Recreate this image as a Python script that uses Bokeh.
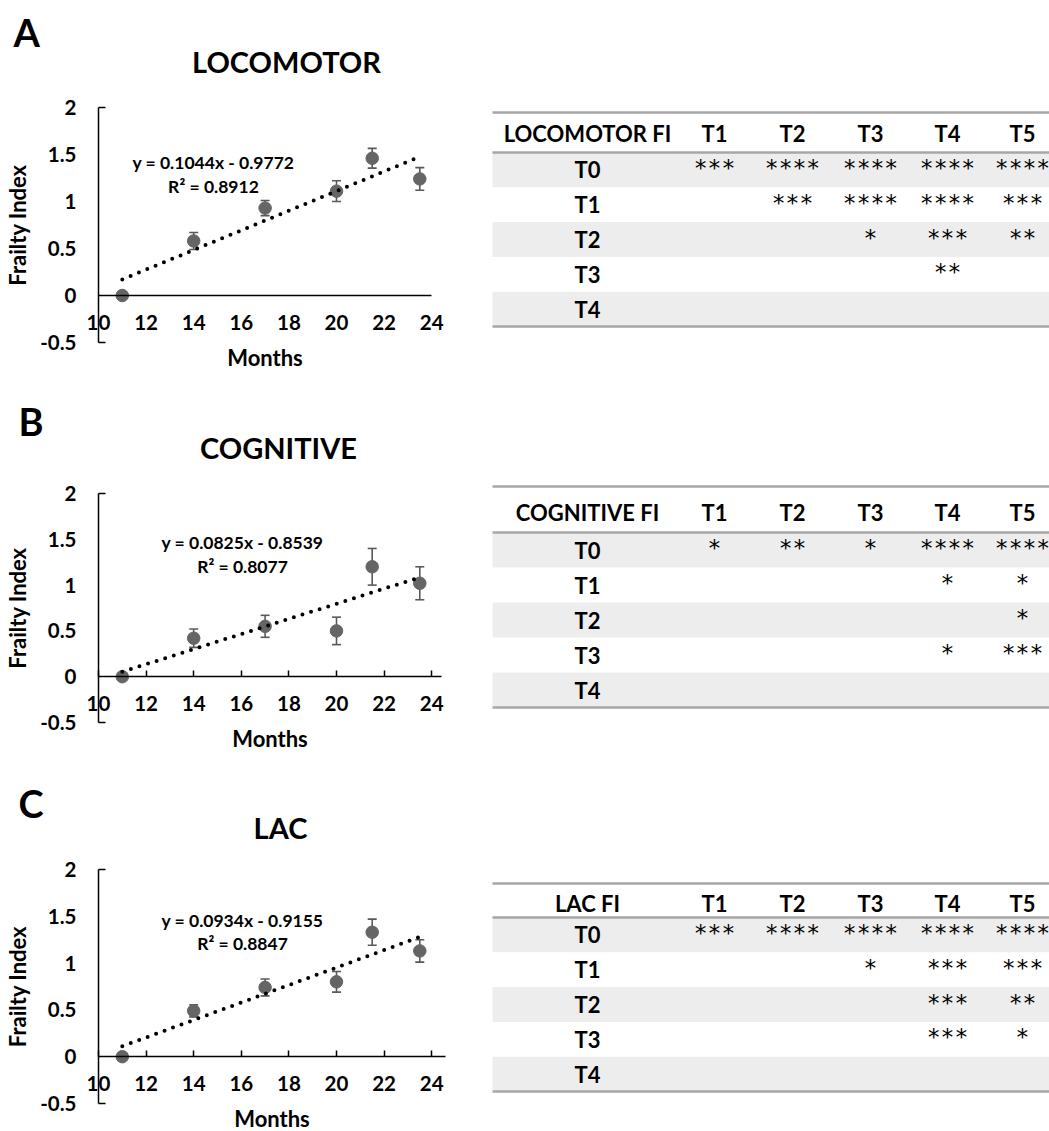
from bokeh.plotting import figure
from bokeh.layouts import column, row
from bokeh.models import (Range1d, LinearAxis, FixedTicker, Whisker, ColumnDataSource,
                          TeeHead, NumeralTickFormatter)
from bokeh.core.properties import value
from bokeh.embed import file_html
from bokeh.resources import INLINE

# ---------------- data ----------------
months = [11, 14, 17, 20, 21.5, 23.5]

loco_fi = [0.0, 0.58, 0.93, 1.11, 1.46, 1.24]
loco_err = [0.0, 0.09, 0.08, 0.11, 0.105, 0.12]
cog_fi = [0.0, 0.42, 0.55, 0.50, 1.20, 1.02]
cog_err = [0.0, 0.10, 0.12, 0.15, 0.20, 0.18]
lac_fi = [0.0, 0.49, 0.74, 0.80, 1.33, 1.13]
lac_err = [0.0, 0.065, 0.09, 0.11, 0.14, 0.12]

loco_fit = (0.1044, -0.9772, 0.8912)
cog_fit = (0.0825, -0.8539, 0.8077)
lac_fit = (0.0934, -0.9155, 0.8847)

x_ticks = [10, 12, 14, 16, 18, 20, 22, 24]
y_ticks = [-0.5, 0, 0.5, 1, 1.5, 2]

table_cols = ["T1", "T2", "T3", "T4", "T5"]
table_rows = ["T0", "T1", "T2", "T3", "T4"]
loco_sig = [["***", "****", "****", "****", "****"],
            ["", "***", "****", "****", "***"],
            ["", "", "*", "***", "**"],
            ["", "", "", "**", ""],
            ["", "", "", "", ""]]
cog_sig = [["*", "**", "*", "****", "****"],
           ["", "", "", "*", "*"],
           ["", "", "", "", "*"],
           ["", "", "", "*", "***"],
           ["", "", "", "", ""]]
lac_sig = [["***", "****", "****", "****", "****"],
           ["", "", "*", "***", "***"],
           ["", "", "", "***", "**"],
           ["", "", "", "***", "*"],
           ["", "", "", "", ""]]

panels = [
    dict(letter="A", title="LOCOMOTOR", fi=loco_fi, err=loco_err, fit=loco_fit,
         tname="LOCOMOTOR FI", sig=loco_sig),
    dict(letter="B", title="COGNITIVE", fi=cog_fi, err=cog_err, fit=cog_fit,
         tname="COGNITIVE FI", sig=cog_sig),
    dict(letter="C", title="LAC", fi=lac_fi, err=lac_err, fit=lac_fit,
         tname="LAC FI", sig=lac_sig),
]

# ---------------- layout (pixels) ----------------
LAYOUT = [
    dict(top=0, head_h=85, body_h=292, frame_top=107, frame_bottom=342, x_end=24.0, tick_in=0,
         letter=(13, 31), title=(286, 61), eq=(14.83, 1.415, 1.16),
         t_top=112, t_head=133, t_line=152, t_row=34.8),
    dict(top=377, head_h=93, body_h=287, frame_top=493, frame_bottom=722, x_end=24.4, tick_in=6,
         letter=(18, 420), title=(278, 447), eq=(16.05, 1.46, 1.2),
         t_top=486, t_head=512, t_line=532, t_row=35.0),
    dict(top=757, head_h=93, body_h=281, frame_top=869, frame_bottom=1103, x_end=24.6, tick_in=6,
         letter=(18, 802), title=(280, 827), eq=(16.05, 1.457, 1.213),
         t_top=883, t_head=903, t_line=917, t_row=34.8),
]
LEFT_W = 480
RIGHT_W = 569
AXIS_X_PX = 98          # pixel position of month 10 (y axis)
PX_PER_MONTH = 23.8
COL_X = [587, 714, 792, 870, 947, 1022]
T_LEFT, T_RIGHT = 492, 1049
FONT = "Lato"
GRAY = "#656565"
BAR_GRAY = "#595959"
LINE_GRAY = "#a6a6a6"
SHADE = "#ededed"


def blank_fig(w, h, x0, x1, ybot, ytop):
    f = figure(width=w, height=h, x_range=Range1d(x0, x1), y_range=Range1d(ybot, ytop),
               x_axis_location=None, y_axis_location=None, toolbar_location=None,
               output_backend="svg", min_border=0, outline_line_color=None, title=None)
    f.grid.visible = False
    return f


def header_fig(pd, L):
    top = L["top"]
    f = blank_fig(LEFT_W + RIGHT_W, L["head_h"], 0, LEFT_W + RIGHT_W, top + L["head_h"], top)
    f.text(x=[L["letter"][0]], y=[L["letter"][1]], text=[pd["letter"]], text_align="left",
           text_baseline="middle", text_font=value(FONT), text_font_style="bold",
           text_font_size="38px", text_color="black")
    f.text(x=[L["title"][0]], y=[L["title"][1]], text=[pd["title"]], text_align="center",
           text_baseline="middle", text_font=value(FONT), text_font_style="bold",
           text_font_size="29px", text_color="black")
    return f


def style_labels(ax):
    ax.major_label_text_font = FONT
    ax.major_label_text_font_style = "bold"
    ax.major_label_text_font_size = "20.5px"
    ax.major_label_text_color = "black"
    ax.axis_label_text_font = FONT
    ax.axis_label_text_font_style = "bold"
    ax.axis_label_text_font_size = "22px"
    ax.axis_label_text_color = "black"
    ax.axis_line_color = "black"
    ax.axis_line_width = 1.5


def scatter_fig(pd, L):
    body_top = L["top"] + L["head_h"]
    body_bottom = body_top + L["body_h"]
    # the frame covers the whole figure so nothing of the axes is clipped
    x0 = 10 - AXIS_X_PX / PX_PER_MONTH
    x1 = 10 + (LEFT_W - AXIS_X_PX) / PX_PER_MONTH
    ppu = (L["frame_bottom"] - L["frame_top"]) / (y_ticks[-1] - y_ticks[0])
    ytop = y_ticks[-1] + (L["frame_top"] - body_top) / ppu
    ybot = y_ticks[0] - (body_bottom - L["frame_bottom"]) / ppu
    p = figure(width=LEFT_W, height=L["body_h"],
               x_range=Range1d(x0, x1), y_range=Range1d(ybot, ytop),
               x_axis_location=None, y_axis_location=None, toolbar_location=None,
               output_backend="svg", outline_line_color=None, min_border=0, title=None)
    p.grid.visible = False

    xa = LinearAxis(fixed_location=0, ticker=FixedTicker(ticks=x_ticks), axis_label="Months",
                    bounds=(x_ticks[0], L["x_end"]))
    style_labels(xa)
    xa.major_tick_in = L["tick_in"]
    xa.major_tick_out = 0
    xa.major_tick_line_color = "black" if L["tick_in"] else None
    xa.major_tick_line_width = 1.5
    xa.minor_tick_line_color = None
    xa.major_label_standoff = 19
    xa.axis_label_standoff = 11
    p.add_layout(xa, "below")

    ya = LinearAxis(fixed_location=x_ticks[0],
                    ticker=FixedTicker(ticks=y_ticks, minor_ticks=[y_ticks[0], y_ticks[-1]]),
                    formatter=NumeralTickFormatter(format="0.[0]"), axis_label="Frailty Index",
                    bounds=(y_ticks[0], y_ticks[-1]))
    style_labels(ya)
    ya.major_tick_line_color = None
    ya.major_tick_out = 0
    ya.major_tick_in = 0
    ya.minor_tick_line_color = "black"
    ya.minor_tick_line_width = 1.5
    ya.minor_tick_in = 7
    ya.minor_tick_out = 0
    ya.major_label_standoff = 22
    ya.axis_label_standoff = 6
    p.add_layout(ya, "left")

    # error bars (only where an error exists)
    xs, up, lo = [], [], []
    for x, y, e in zip(months, pd["fi"], pd["err"]):
        if e > 0:
            xs.append(x)
            up.append(y + e)
            lo.append(y - e)
    src = ColumnDataSource(dict(x=xs, upper=up, lower=lo))
    w = Whisker(base="x", upper="upper", lower="lower", source=src,
                line_color=BAR_GRAY, line_width=1.6,
                upper_head=TeeHead(size=9, line_color=BAR_GRAY, line_width=1.6),
                lower_head=TeeHead(size=9, line_color=BAR_GRAY, line_width=1.6))
    w.level = "underlay"
    p.add_layout(w)

    p.scatter(months, pd["fi"], size=12.5, fill_color=GRAY, line_color=GRAY)

    slope, icpt, r2 = pd["fit"]
    mx0, mx1 = months[0], months[-1]
    p.line([mx0, mx1], [slope * mx0 + icpt, slope * mx1 + icpt], line_color="black",
           line_width=4, line_dash="0 9", line_cap="round")

    ex, ey1, ey2 = L["eq"]
    eq1 = "y = {:.4f}x - {:.4f}".format(slope, abs(icpt))
    eq2 = "R\u00b2 = {:.4f}".format(r2)
    p.text(x=[ex, ex], y=[ey1, ey2], text=[eq1, eq2], text_align="center",
           text_baseline="middle", text_font=value(FONT), text_font_style="bold",
           text_font_size="17.5px", text_color="black")
    return p


def table_fig(pd, L):
    body_top = L["top"] + L["head_h"]
    body_bottom = body_top + L["body_h"]
    f = blank_fig(RIGHT_W, L["body_h"], LEFT_W, LEFT_W + RIGHT_W, body_bottom, body_top)
    n = len(table_rows)
    tops = [L["t_line"] + i * L["t_row"] for i in range(n)]
    shaded = [i for i in range(n) if i % 2 == 0]
    f.quad(left=T_LEFT, right=T_RIGHT, top=[tops[i] for i in shaded],
           bottom=[tops[i] + L["t_row"] for i in shaded], fill_color=SHADE, line_color=None)
    bottom_line = tops[-1] + L["t_row"]
    f.segment(x0=[T_LEFT] * 3, x1=[T_RIGHT] * 3,
              y0=[L["t_top"], L["t_line"], bottom_line], y1=[L["t_top"], L["t_line"], bottom_line],
              line_color=LINE_GRAY, line_width=2.5)
    # header
    f.text(x=COL_X, y=[L["t_head"]] * len(COL_X), text=[pd["tname"]] + table_cols,
           text_align="center", text_baseline="middle", text_font=value(FONT),
           text_font_style="bold", text_font_size="22px", text_color="black")
    # row labels
    centers = [t + L["t_row"] / 2 for t in tops]
    f.text(x=[COL_X[0]] * n, y=centers, text=table_rows, text_align="center",
           text_baseline="middle", text_font=value(FONT), text_font_style="bold",
           text_font_size="22px", text_color="black")
    # significance stars
    sx, sy, st = [], [], []
    for i, r in enumerate(pd["sig"]):
        for j, s in enumerate(r):
            if s:
                sx.append(COL_X[j + 1])
                sy.append(centers[i] - 2)
                st.append(s)
    f.text(x=sx, y=sy, text=st, text_align="center", text_baseline="middle",
           text_font=value("DejaVu Sans Mono"), text_font_size="23px", text_color="black")
    return f


blocks = []
for pd, L in zip(panels, LAYOUT):
    blocks.append(header_fig(pd, L))
    blocks.append(row(scatter_fig(pd, L), table_fig(pd, L), spacing=0))

page = column(*blocks, spacing=0)
open("out.html", "w").write(file_html(page, INLINE))
